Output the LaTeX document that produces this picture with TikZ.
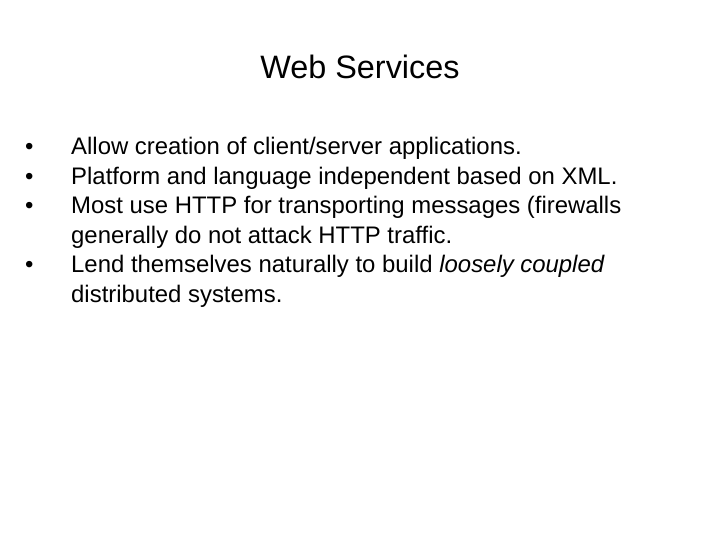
\documentclass[tikz,border=0pt]{standalone}
\usepackage{fontspec}
\setmainfont{Liberation Sans}
\tikzset{
  line/.style={anchor=base west, inner sep=0pt, font=\fontsize{24}{28}\selectfont},
  dot/.style={anchor=base west, inner sep=0pt, font=\fontsize{24}{28}\selectfont}
}
\begin{document}
\begin{tikzpicture}[x=1bp,y=-1bp]
  \useasboundingbox (0,0) rectangle (720,540);
  \node[anchor=base, inner sep=0pt, font=\fontsize{32.5}{38}\selectfont] (title) at (360,79) {Web Services};
  % bullets
  \node[dot] (b1) at (25,155) {\textbullet};
  \node[line] (l1) at (71,155) {Allow creation of client/server applications.};
  \node[dot] (b2) at (25,184.5) {\textbullet};
  \node[line] (l2) at (71,184.5) {Platform and language independent based on XML.};
  \node[dot] (b3) at (25,214) {\textbullet};
  \node[line] (l3) at (71,214) {Most use HTTP for transporting messages (firewalls};
  \node[line] (l3b) at (71,243.5) {generally do not attack HTTP traffic.};
  \node[dot] (b4) at (25,273) {\textbullet};
  \node[line] (l4) at (71,273) {Lend themselves naturally to build \textit{loosely coupled}};
  \node[line] (l4b) at (71,302.5) {distributed systems.};
\end{tikzpicture}
\end{document}
